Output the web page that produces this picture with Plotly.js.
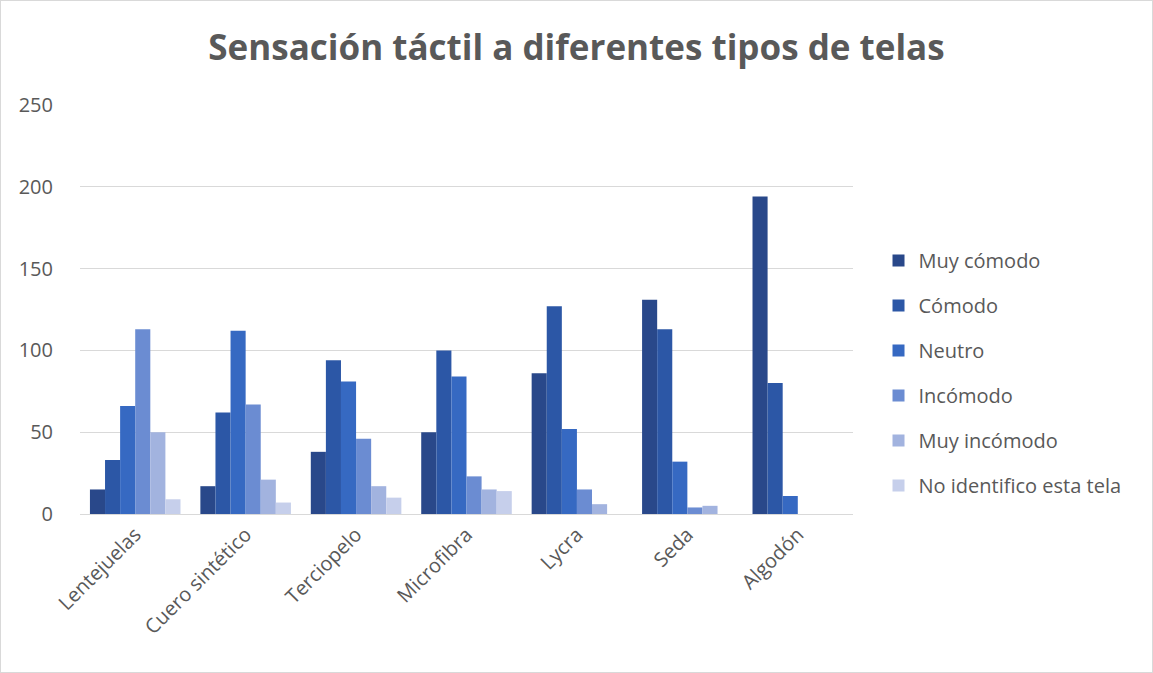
<!DOCTYPE html>
<html><head><meta charset="utf-8">
<script src="https://cdn.plot.ly/plotly-3.0.1.min.js"></script>
<style>html,body{margin:0;padding:0;background:#fff}#c{width:1151px;height:671px;border:1px solid #d9d9d9}</style>
</head><body><div id="c"></div>
<script>
const categories = ["Lentejuelas","Cuero sintético","Terciopelo","Microfibra","Lycra","Seda","Algodón"];
const seriesNames = ["Muy cómodo","Cómodo","Neutro","Incómodo","Muy incómodo","No identifico esta tela"];
const muyComodo    = [15, 17, 38, 50, 86, 131, 194];
const comodo       = [33, 62, 94, 100, 127, 113, 80];
const neutro       = [66, 112, 81, 84, 52, 32, 11];
const incomodo     = [113, 67, 46, 23, 15, 4, 0];
const muyIncomodo  = [50, 21, 17, 15, 6, 5, 0];
const noIdentifico = [9, 7, 10, 14, 0, 0, 0];
const seriesValues = [muyComodo, comodo, neutro, incomodo, muyIncomodo, noIdentifico];
const colors = ["#29488a","#2c57a6","#3669c2","#6b8cd2","#a2b3df","#c6cfeb"];
const font = "Open Sans, Liberation Sans, sans-serif";
const data = seriesValues.map((v,i)=>({
  type:"bar", x:categories, y:v, name:seriesNames[i],
  marker:{color:colors[i]}, legendgroup:"g"+i
}));
const layout = {
  width:1151, height:671,
  margin:{l:79, r:299, t:104, b:158},
  paper_bgcolor:"#fff", plot_bgcolor:"#fff",
  font:{family:font, color:"#595959", size:20},
  title:{text:"<b>Sensación táctil a diferentes tipos de telas</b>", x:0.5, xanchor:"center", y:0.93, yanchor:"middle",
    font:{family:font, size:35, color:"#595959"}},
  barmode:"group", bargap:0.18, bargroupgap:0,
  xaxis:{tickangle:-45, showline:true, linecolor:"#d9d9d9", linewidth:1, ticks:"", tickfont:{size:20, color:"#595959"}},
  yaxis:{range:[0,250], dtick:50, showgrid:true, gridcolor:"#d9d9d9", gridwidth:1, zeroline:false, showline:false,
    ticks:"", tickfont:{size:20, color:"#595959"}, ticklabelstandoff:26},
  showlegend:true,
  legend:{x:1.033, xanchor:"left", y:0.345, yanchor:"middle", font:{size:20, color:"#595959"}, tracegroupgap:16, itemwidth:30}
};
Plotly.newPlot("c", data, layout, {displayModeBar:false, staticPlot:true});
</script></body></html>
